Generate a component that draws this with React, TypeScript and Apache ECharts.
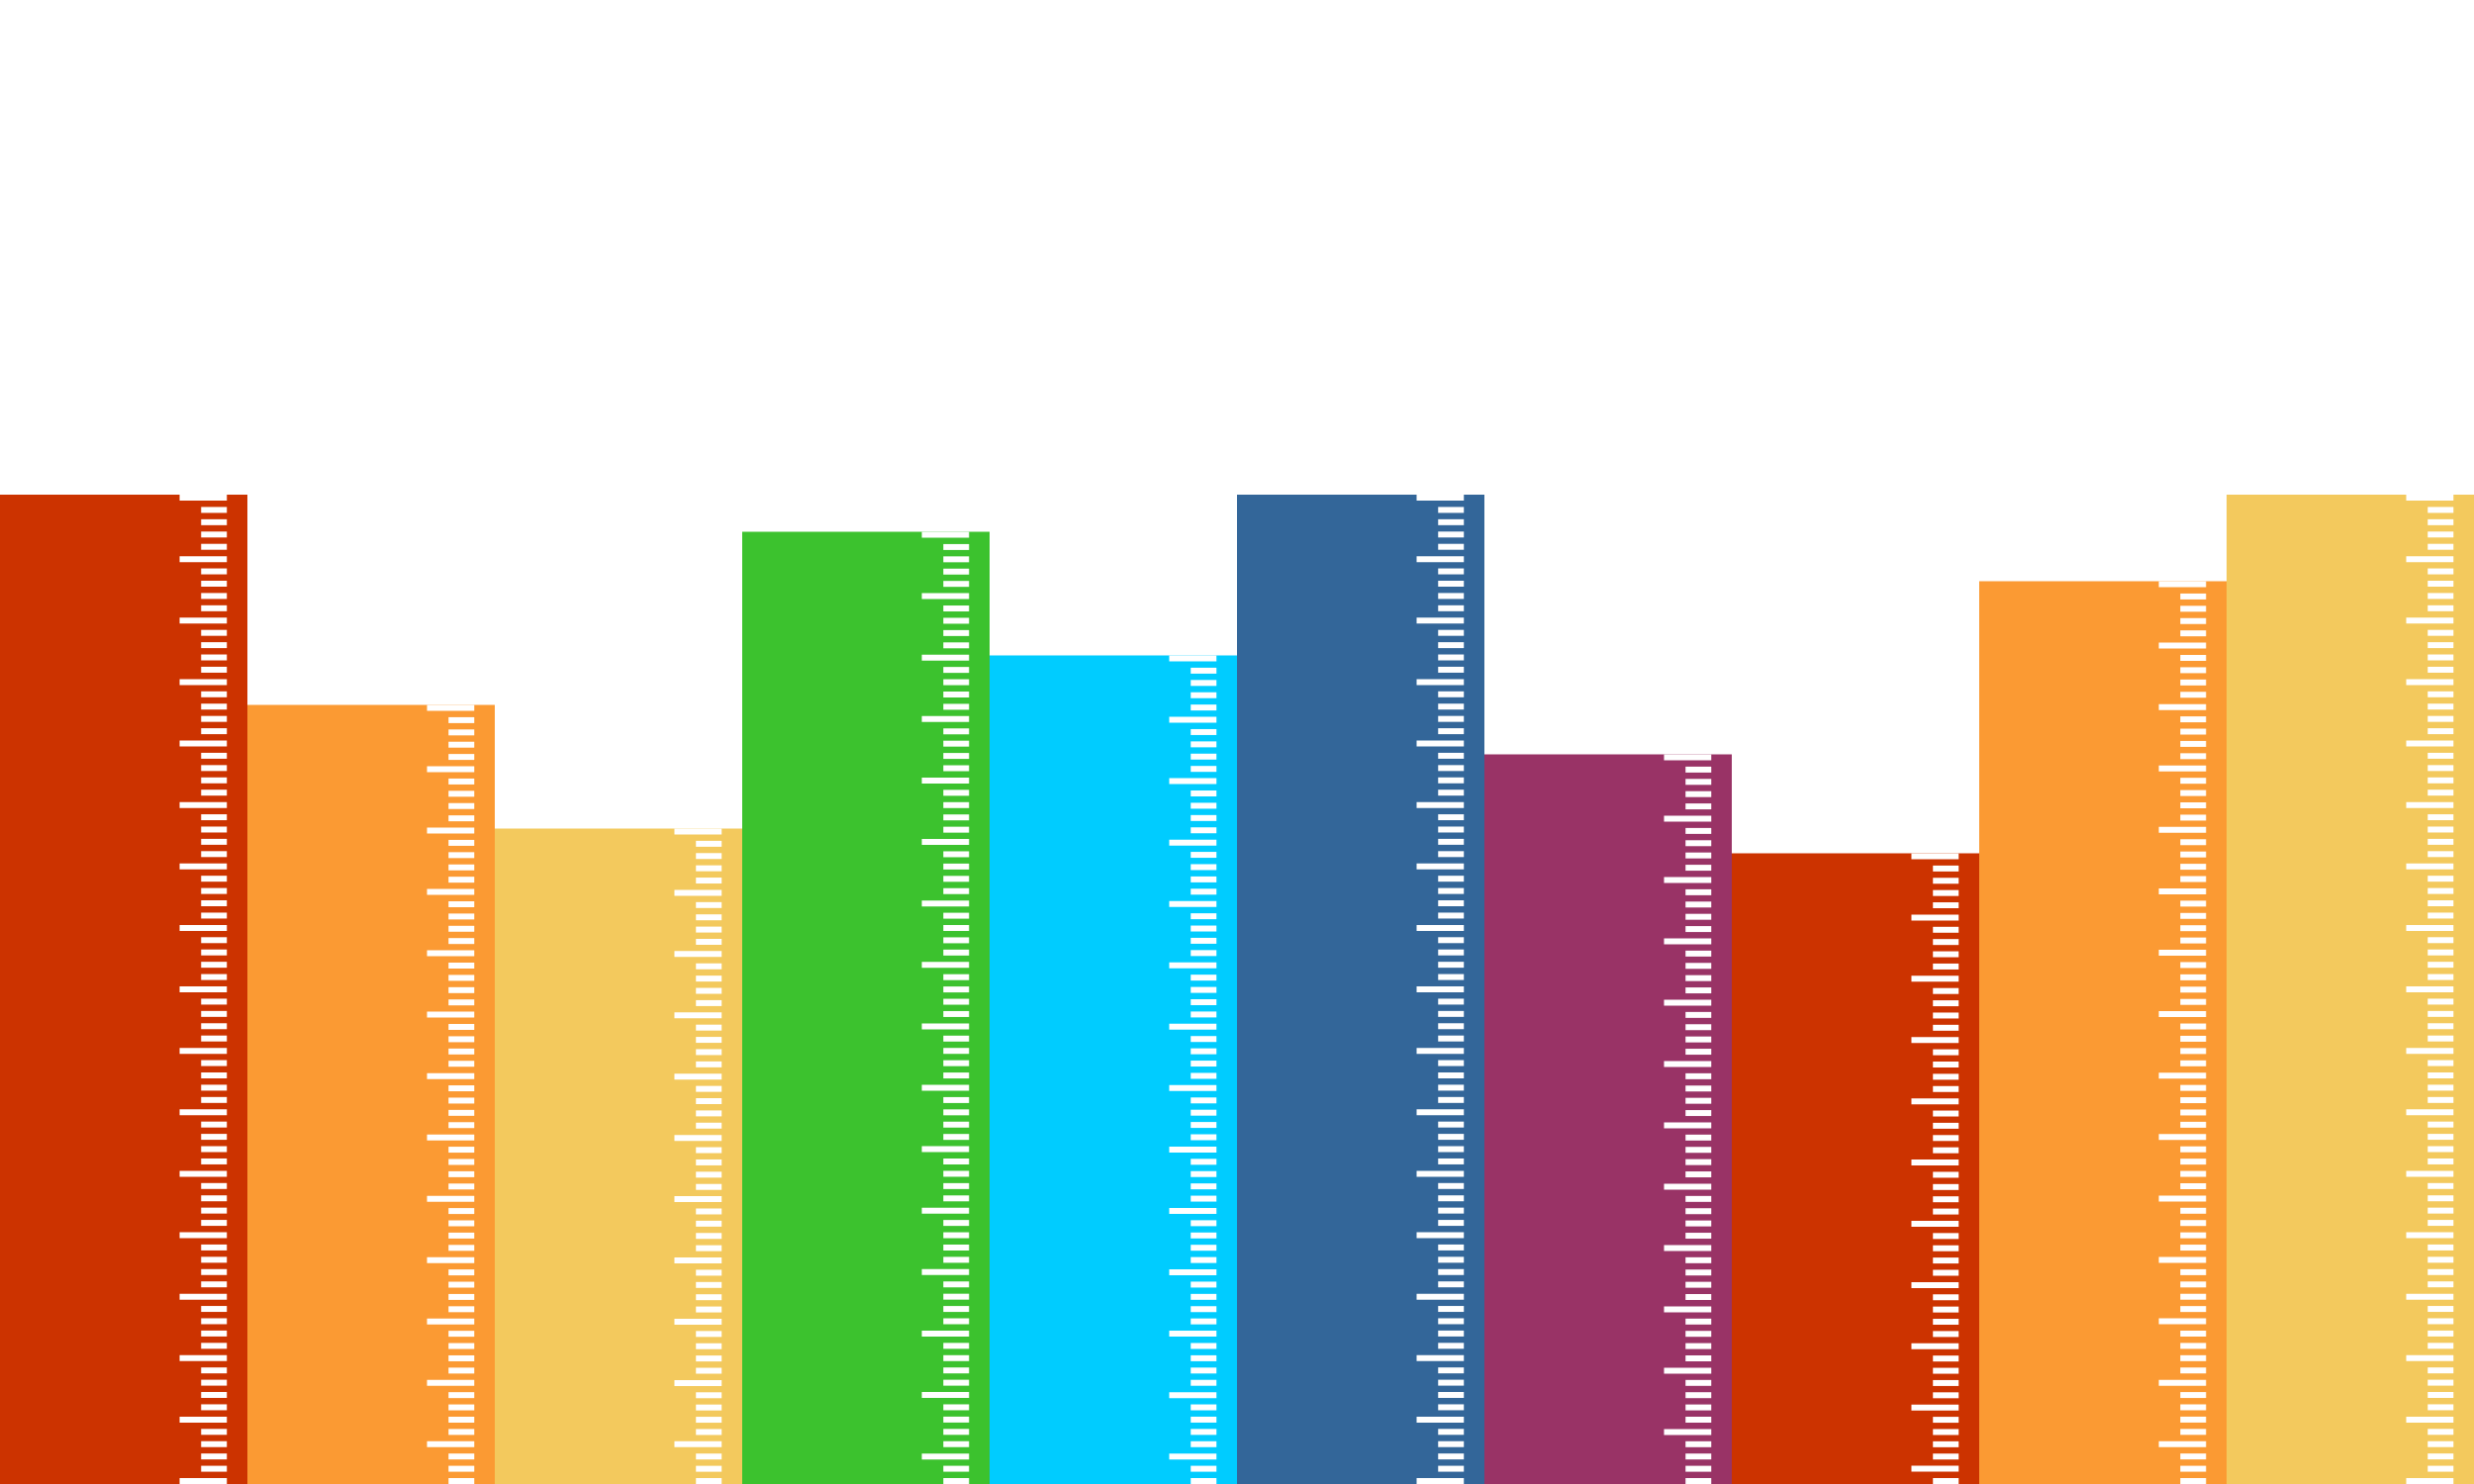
import React, { useEffect, useRef } from 'react';
import * as echarts from 'echarts';

// one ruler per category, value = number of ruler units
const categories = ['A', 'B', 'C', 'D', 'E', 'F', 'G', 'H', 'I', 'J'];
const values = [80, 63, 53, 77, 67, 80, 59, 51, 73, 80];
const barColors = [
  '#CC3300', '#FB9A33', '#F3C95D', '#3CC22E', '#00CCFF',
  '#336699', '#993366', '#CC3300', '#FB9A33', '#F3C95D'
];
const axisMax = 120;
const majorEvery = 5;

const App: React.FC = () => {
  const chartRef = useRef<HTMLDivElement>(null);

  useEffect(() => {
    if (!chartRef.current) return;
    const chart = echarts.init(chartRef.current, null, { renderer: 'svg' });

    const option: echarts.EChartsOption = {
      animation: false,
      backgroundColor: '#ffffff',
      grid: { left: 0, right: 0, top: 0, bottom: 0 },
      xAxis: {
        type: 'category',
        data: categories,
        show: false
      },
      yAxis: {
        type: 'value',
        min: 0,
        max: axisMax,
        show: false,
        splitLine: { show: false }
      },
      series: [
        {
          type: 'bar',
          barCategoryGap: '0%',
          z: 1,
          data: values.map((v, i) => ({
            value: v,
            itemStyle: { color: barColors[i] }
          }))
        },
        {
          // ruler ticks drawn over each bar, spread from its top to its base
          type: 'custom',
          z: 2,
          encode: { x: 0, y: 1 },
          data: values.map((v, i) => [i, v]),
          renderItem: (params: any, api: any) => {
            const idx = api.value(0);
            const v = api.value(1);
            const top = api.coord([idx, v]);
            const base = api.coord([idx, 0]);
            const bandW = api.size([1, 0])[0];
            const left = top[0] - bandW / 2;
            const h = base[1] - top[1];
            const n = Math.round(v);
            const th = bandW * 0.024;
            const pitch = n > 0 ? (h - th) / n : 0;
            const end = left + bandW * 0.917;
            const children: any[] = [];
            for (let k = 0; k <= n; k++) {
              const start = left + bandW * (k % majorEvery === 0 ? 0.726 : 0.813);
              children.push({
                type: 'rect',
                shape: { x: start, y: top[1] + k * pitch, width: end - start, height: th },
                style: { fill: '#ffffff' }
              });
            }
            return { type: 'group', children };
          }
        }
      ]
    };

    chart.setOption(option);

    return () => {
      chart.dispose();
    };
  }, []);

  return (
    <div
      ref={chartRef}
      style={{ position: 'absolute', left: 0, top: 0, width: '2500px', height: '1500px' }}
    />
  );
};

export default App;
